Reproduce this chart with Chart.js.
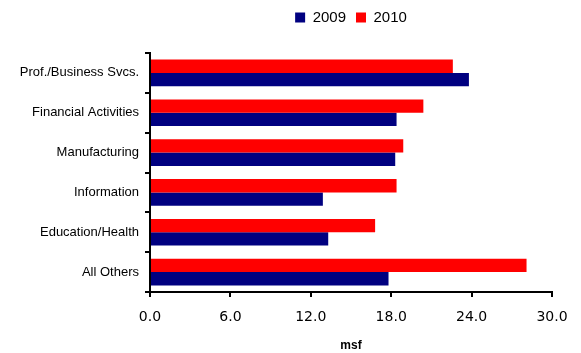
<!DOCTYPE html>
<html>
<head>
<meta charset="utf-8">
<script src="https://cdn.jsdelivr.net/npm/chart.js@4"></script>
<style>
  html, body { margin: 0; padding: 0; background: #fff; }
  #wrap { width: 581px; height: 353px; }
</style>
</head>
<body>
<div id="wrap"><canvas id="chart" width="581" height="353"></canvas></div>
<script>
const CATEGORIES = ["Prof./Business Svcs.", "Financial Activities", "Manufacturing", "Information", "Education/Health", "All Others"];
const VALUES_2009 = [23.8, 18.4, 18.3, 12.9, 13.3, 17.8];
const VALUES_2010 = [22.6, 20.4, 18.9, 18.4, 16.8, 28.1];
const X_MIN = 0;
const X_MAX = 30;
const X_STEP = 6;

const SANS = "'Liberation Sans', Arial, sans-serif";

// extra space under the legend
const legendGap = {
  id: "legendGap",
  beforeInit(chart) {
    const fit = chart.legend.fit;
    chart.legend.fit = function () {
      fit.bind(chart.legend)();
      this.height += 18;
    };
  },
};

new Chart(document.getElementById("chart"), {
  type: "bar",
  data: {
    labels: CATEGORIES,
    datasets: [
      { label: "2010", data: VALUES_2010, backgroundColor: "#FF0000", borderWidth: 0 },
      { label: "2009", data: VALUES_2009, backgroundColor: "#000080", borderWidth: 0 },
    ],
  },
  options: {
    indexAxis: "y",
    responsive: false,
    animation: false,
    devicePixelRatio: 1,
    categoryPercentage: 0.67,
    barPercentage: 1.0,
    layout: { padding: { top: 0, right: 29, bottom: 0, left: 0 } },
    plugins: {
      tooltip: { enabled: false },
      legend: {
        position: "top",
        fullSize: false,
        reverse: true,
        labels: {
          boxWidth: 10,
          boxHeight: 10,
          padding: 10,
          color: "#000",
          font: { family: SANS, size: 15 },
        },
      },
    },
    scales: {
      x: {
        min: X_MIN,
        max: X_MAX,
        ticks: {
          stepSize: X_STEP,
          color: "#000",
          padding: 12,
          maxRotation: 0,
          font: { family: "'DejaVu Sans', sans-serif", size: 14 },
          callback: (v) => Number(v).toFixed(1),
        },
        grid: { drawOnChartArea: false, drawTicks: true, tickLength: 5, tickColor: "#000", lineWidth: 2 },
        border: { display: true, color: "#000", width: 2 },
        title: {
          display: true,
          text: "msf",
          color: "#000",
          padding: { top: 4, bottom: 0 },
          font: { family: SANS, size: 12, weight: "bold" },
        },
        afterFit: (scale) => { scale.height = 61; },
      },
      y: {
        ticks: {
          color: "#000",
          padding: 6,
          font: { family: SANS, size: 13 },
        },
        grid: { offset: true, drawOnChartArea: false, drawTicks: true, tickLength: 5, tickColor: "#000", lineWidth: 2 },
        border: { display: true, color: "#000", width: 2 },
        afterFit: (scale) => { scale.width = 150; },
      },
    },
  },
  plugins: [legendGap],
});
</script>
</body>
</html>
